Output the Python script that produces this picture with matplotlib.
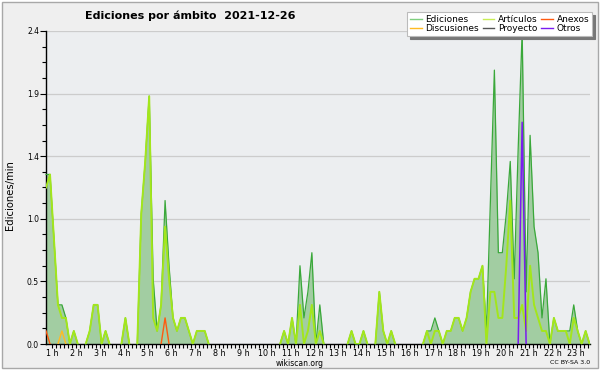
import matplotlib
matplotlib.use("Agg")
import matplotlib.pyplot as plt
import matplotlib.patches as mpatches
from matplotlib.lines import Line2D
from matplotlib.ticker import FixedLocator
import numpy as np

# 10-minute buckets; first bucket sits a bit before 1 h on the axis
start_hour = 0.73
n_points = 138

# edits per minute, one value per 10 minutes
ediciones = [
    1.3, 1.3, 0.8, 0.3, 0.3, 0.2, 0.0, 0.1, 0.0, 0.0, 0.0, 0.1,
    0.3, 0.3, 0.0, 0.1, 0.0, 0.0, 0.0, 0.0, 0.2, 0.0, 0.0, 0.0,
    1.0, 1.4, 1.9, 0.5, 0.1, 0.3, 1.1, 0.6, 0.2, 0.1, 0.2, 0.2,
    0.1, 0.0, 0.1, 0.1, 0.1, 0.0, 0.0, 0.0, 0.0, 0.0, 0.0, 0.0,
    0.0, 0.0, 0.0, 0.0, 0.0, 0.0, 0.0, 0.0, 0.0, 0.0, 0.0, 0.0,
    0.1, 0.0, 0.2, 0.0, 0.6, 0.2, 0.4, 0.7, 0.0, 0.3, 0.0, 0.0,
    0.0, 0.0, 0.0, 0.0, 0.0, 0.1, 0.0, 0.0, 0.1, 0.0, 0.0, 0.0,
    0.4, 0.1, 0.0, 0.1, 0.0, 0.0, 0.0, 0.0, 0.0, 0.0, 0.0, 0.0,
    0.1, 0.1, 0.2, 0.1, 0.0, 0.1, 0.1, 0.2, 0.2, 0.1, 0.2, 0.4,
    0.5, 0.5, 0.6, 0.1, 1.1, 2.1, 0.7, 0.7, 1.0, 1.4, 0.5, 1.5,
    2.4, 0.4, 1.6, 0.9, 0.7, 0.2, 0.5, 0.0, 0.2, 0.1, 0.1, 0.1,
    0.1, 0.3, 0.1, 0.0, 0.1, 0.0,
]
articulos = [
    1.2, 1.3, 0.8, 0.3, 0.2, 0.2, 0.0, 0.1, 0.0, 0.0, 0.0, 0.1,
    0.3, 0.3, 0.0, 0.1, 0.0, 0.0, 0.0, 0.0, 0.2, 0.0, 0.0, 0.0,
    1.0, 1.4, 1.9, 0.2, 0.1, 0.3, 0.9, 0.5, 0.2, 0.1, 0.2, 0.2,
    0.1, 0.0, 0.1, 0.1, 0.1, 0.0, 0.0, 0.0, 0.0, 0.0, 0.0, 0.0,
    0.0, 0.0, 0.0, 0.0, 0.0, 0.0, 0.0, 0.0, 0.0, 0.0, 0.0, 0.0,
    0.1, 0.0, 0.2, 0.0, 0.3, 0.0, 0.1, 0.3, 0.0, 0.1, 0.0, 0.0,
    0.0, 0.0, 0.0, 0.0, 0.0, 0.1, 0.0, 0.0, 0.1, 0.0, 0.0, 0.0,
    0.4, 0.1, 0.0, 0.1, 0.0, 0.0, 0.0, 0.0, 0.0, 0.0, 0.0, 0.0,
    0.1, 0.0, 0.1, 0.1, 0.0, 0.1, 0.1, 0.2, 0.2, 0.1, 0.2, 0.4,
    0.5, 0.5, 0.6, 0.0, 0.4, 0.4, 0.2, 0.2, 0.6, 1.1, 0.2, 0.2,
    0.3, 0.1, 0.6, 0.3, 0.2, 0.1, 0.1, 0.0, 0.2, 0.1, 0.1, 0.1,
    0.0, 0.2, 0.1, 0.0, 0.1, 0.0,
]
# sparse series: bucket index -> value
anexos_idx, anexos_val = [0, 30], [0.1, 0.2]
discusiones_idx, discusiones_val = [4], [0.1]
otros_idx, otros_val = [120], [1.7]
proyecto_idx, proyecto_val = [], []

hour_labels = [f"{h} h" for h in range(1, 24)]
y_ticks = [0.0, 0.48, 0.96, 1.44, 1.92, 2.4]
y_tick_labels = ["0.0", "0.5", "1.0", "1.4", "1.9", "2.4"]


def dense(idx, val):
    arr = np.zeros(n_points)
    arr[idx] = val
    return arr


def visible(v):
    # hide runs of zeros so nothing is drawn along the baseline
    v = np.asarray(v, float)
    nz = v > 0
    keep = nz.copy()
    keep[1:] |= nz[:-1]
    keep[:-1] |= nz[1:]
    return np.where(keep, v, np.nan)


x = start_hour + np.arange(n_points) / 6

c_edic = "#3aa83a"
c_fill = "#a2cda2"
c_art = "#a3e61c"
c_anex = "#ff5a10"
c_disc = "#ffbb22"
c_proy = "#555555"
c_otros = "#7a1cf0"

fig = plt.figure(figsize=(6, 3.7), dpi=100, facecolor="white")
fig.patches.append(mpatches.Rectangle((0.004, 0.006), 0.992, 0.988, transform=fig.transFigure,
                                      facecolor="#efefef", edgecolor="#a8a8a8", linewidth=1, zorder=-10))

ax = fig.add_axes([46 / 600, 1 - 344 / 370, 544 / 600, 313 / 370])
ax.set_facecolor("#eceef0")

ax.fill_between(x, 0, ediciones, color=c_fill, linewidth=0, zorder=2)
ax.plot(x, visible(ediciones), color=c_edic, linewidth=0.9, zorder=3, clip_on=False)
ax.plot(x, visible(articulos), color=c_art, linewidth=1.4, zorder=4)
ax.plot(x, visible(dense(anexos_idx, anexos_val)), color=c_anex, linewidth=1.0, zorder=5)
ax.plot(x, visible(dense(discusiones_idx, discusiones_val)), color=c_disc, linewidth=1.0, zorder=5)
ax.plot(x, visible(dense(otros_idx, otros_val)), color=c_otros, linewidth=1.1, zorder=6)

ax.set_xlim(0.728, 23.58)
ax.set_ylim(0, 2.4)

ax.set_yticks(y_ticks)
ax.set_yticklabels(y_tick_labels, fontsize=5.5)
ax.yaxis.set_minor_locator(FixedLocator(np.arange(0, 2.41, 0.12)))
ax.set_xticks(range(1, 24))
ax.set_xticklabels(hour_labels, fontsize=5.8)
ax.xaxis.set_minor_locator(FixedLocator(np.arange(1, 23.6, 1 / 6)))
ax.tick_params(axis="both", which="both", direction="out", color="black", width=0.8)
ax.tick_params(axis="y", which="major", length=4, pad=1)
ax.tick_params(axis="y", which="minor", length=3)
ax.tick_params(axis="x", which="both", length=3, pad=0.3)

ax.grid(axis="y", which="major", color="#cccccc", linewidth=0.9)
ax.set_axisbelow(True)
for side in ["top", "right"]:
    ax.spines[side].set_visible(False)
ax.spines["left"].set_linewidth(1)
ax.spines["bottom"].set_linewidth(1)

fig.text(10 / 600, 1 - 195 / 370, "Ediciones/min", rotation=90, fontsize=7.2,
         ha="center", va="center")
fig.text(85 / 600, 1 - 16 / 370, "Ediciones por ámbito  2021-12-26", fontsize=8,
         fontweight="bold", ha="left", va="center")
fig.text(300 / 600, 1 - 363 / 370, "wikiscan.org", fontsize=5.5, ha="center", va="center")
fig.text(590 / 600, 1 - 363 / 370, "CC BY-SA 3.0", fontsize=4.5, ha="right", va="center")

handles = [
    Line2D([], [], color="#7fcf7f", lw=1, label="Ediciones"),
    Line2D([], [], color=c_disc, lw=1, label="Discusiones"),
    Line2D([], [], color="#c8ee55", lw=1, label="Artículos"),
    Line2D([], [], color=c_proy, lw=1, label="Proyecto"),
    Line2D([], [], color=c_anex, lw=1, label="Anexos"),
    Line2D([], [], color=c_otros, lw=1, label="Otros"),
]
leg = fig.legend(handles=handles, ncol=3, loc="upper right", bbox_to_anchor=(592 / 600, 1 - 12 / 370),
                 fontsize=6.5, frameon=True, fancybox=False, shadow={"color": "#777777", "alpha": 1},
                 handlelength=1.3, handletextpad=0.4, columnspacing=0.4, labelspacing=0.05,
                 borderpad=0.3, borderaxespad=0)
leg.get_frame().set_edgecolor("#bbbbbb")
leg.get_frame().set_linewidth(0.8)

fig.savefig("out.png", dpi=100, facecolor=fig.get_facecolor())
